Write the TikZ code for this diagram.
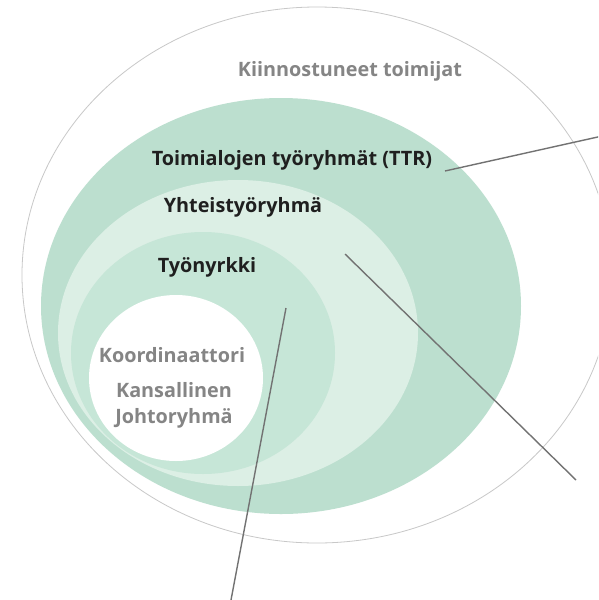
\documentclass[tikz,border=0pt]{standalone}
\usepackage{fontspec}
\setmainfont{Open Sans}
\definecolor{gOuter}{HTML}{BCDFCF}
\definecolor{gLight}{HTML}{DCEFE5}
\definecolor{gMid}{HTML}{C6E6D7}
\definecolor{txtGray}{HTML}{858585}
\definecolor{lineGray}{HTML}{727272}
\definecolor{rimGray}{HTML}{C8C8C8}
\tikzset{
  lbl/.style={font=\bfseries\fontsize{19.8}{22}\selectfont, inner sep=0pt, anchor=center},
  darklbl/.style={lbl, text=black!88},
  graylbl/.style={lbl, text=txtGray},
  leader/.style={draw=lineGray, line width=1.4pt}
}
\begin{document}
\begin{tikzpicture}[x=1pt,y=-1pt]
\useasboundingbox (0,0) rectangle (598,600);
\clip (0,0) rectangle (598,600);
\fill[white] (0,0) rectangle (598,600);
% outer ring
\draw[rimGray, line width=0.8pt] (317,275) ellipse [x radius=295pt, y radius=268pt];
% nested groups
\fill[gOuter] (281,306) ellipse [x radius=240pt, y radius=208pt];
\fill[gLight] (238,333) ellipse [x radius=180pt, y radius=153pt];
\fill[gMid] (203,353) ellipse [x radius=132pt, y radius=121pt];
\fill[white] (176,378) ellipse [x radius=87pt, y radius=83pt];
% labels
\node[graylbl] (kiinn) at (350,71) {Kiinnostuneet toimijat};
\node[darklbl] (ttr) at (292,160) {Toimialojen työryhmät (TTR)};
\node[darklbl] (yht) at (243,207) {Yhteistyöryhmä};
\node[darklbl] (tyo) at (207,267) {Työnyrkki};
\node[graylbl] (koord) at (172,355) {Koordinaattori};
\node[graylbl] (kans) at (174,390) {Kansallinen};
\node[graylbl] (joht) at (174,418) {Johtoryhmä};
% leader lines
\coordinate (a1) at (445,171); \coordinate (a2) at (600,136.5);
\coordinate (b1) at (345,254); \coordinate (b2) at (576,480);
\coordinate (c1) at (286,308); \coordinate (c2) at (231,600);
\draw[leader] (a1) -- (a2);
\draw[leader] (b1) -- (b2);
\draw[leader] (c1) -- (c2);
\end{tikzpicture}
\end{document}
